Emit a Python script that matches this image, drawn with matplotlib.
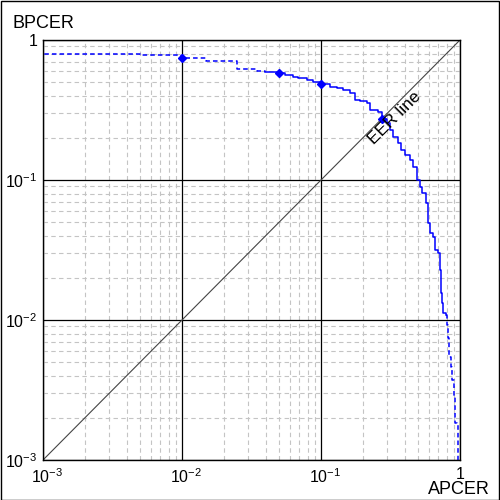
import matplotlib.pyplot as plt
from matplotlib.patches import Rectangle
from matplotlib.ticker import LogLocator, NullFormatter
from matplotlib.transforms import ScaledTranslation

plt.rcParams['font.family'] = ['Liberation Sans', 'DejaVu Sans']
plt.rcParams['mathtext.default'] = 'regular'

# DET curve (step corners), APCER vs BPCER
apcer = [0.001, 0.001, 0.00499, 0.00984, 0.0149, 0.0249, 0.0347, 0.0396,
         0.0497, 0.0551, 0.0629, 0.0683, 0.0793, 0.0876, 0.1, 0.116, 0.130,
         0.144, 0.162, 0.1757, 0.191, 0.214, 0.225, 0.257, 0.2747, 0.2994,
         0.3135, 0.3296, 0.358, 0.376, 0.402, 0.4366, 0.459, 0.4905, 0.515,
         0.532, 0.569, 0.5886, 0.608, 0.639, 0.661, 0.6945, 0.718, 0.726,
         0.742, 0.7585, 0.793, 0.802, 0.8154, 0.834, 0.8615, 0.870, 0.910,
         0.9196, 0.956, 0.962, 1.0]
bpcer = [1.0, 0.79, 0.778, 0.740, 0.711, 0.618, 0.604, 0.591,
         0.578, 0.562, 0.544, 0.533, 0.520, 0.504, 0.483, 0.461, 0.451,
         0.440, 0.418, 0.373, 0.367, 0.355, 0.316, 0.306, 0.273, 0.255,
         0.2276, 0.2028, 0.1837, 0.1637, 0.151, 0.139, 0.124, 0.100, 0.0891,
         0.0807, 0.0685, 0.0493, 0.0418, 0.0391, 0.0316, 0.0301, 0.0228, 0.0156,
         0.0132, 0.0112, 0.01086, 0.0092, 0.00744, 0.00544, 0.00462, 0.00373, 0.00282,
         0.00184, 0.00181, 0.001, 0.001]
solid_start = 7    # dashed before this point
solid_end = 46     # dashed after this point

marker_x = [0.01, 0.05, 0.1, 0.2747]
marker_y = [0.740, 0.578, 0.483, 0.273]

fig = plt.figure(figsize=(5, 5), dpi=100)
ax = fig.add_axes([0.086, 0.08, 0.834, 0.84])
ax.set_xscale('log')
ax.set_yscale('log')
ax.set_xlim(1e-3, 1)
ax.set_ylim(1e-3, 1)

ax.xaxis.set_minor_locator(LogLocator(base=10, subs=range(2, 10)))
ax.yaxis.set_minor_locator(LogLocator(base=10, subs=range(2, 10)))
ax.xaxis.set_minor_formatter(NullFormatter())
ax.yaxis.set_minor_formatter(NullFormatter())
ax.grid(which='minor', color='#c4c4c4', linestyle=(0, (4, 3)), linewidth=0.8)
ax.grid(which='major', color='black', linestyle='-', linewidth=0.9)

ticks = [1e-3, 1e-2, 1e-1, 1]
labels = ['$10^{-3}$', '$10^{-2}$', '$10^{-1}$', '1']
ax.set_xticks(ticks)
ax.set_xticklabels(labels)
ax.set_yticks(ticks)
ax.set_yticklabels(labels)
ax.tick_params(which='both', length=0, labelsize=11.5, colors='black')
ax.tick_params(axis='x', pad=5)
ax.tick_params(axis='y', pad=4)
for s in ax.spines.values():
    s.set_linewidth(1)
    s.set_color('black')

# shift x tick labels a little to the right, like the original
shift = ScaledTranslation(4 / 100, 0, fig.dpi_scale_trans)
for lbl in ax.get_xticklabels():
    if lbl.get_text() != '1':
        lbl.set_transform(lbl.get_transform() + shift)

# EER line
ax.plot([1e-3, 1], [1e-3, 1], color='#444444', linewidth=0.8)
ax.text(0.34, 0.277, 'EER line', rotation=45, rotation_mode='anchor',
        ha='center', va='center', fontsize=12.5)

# curve
ax.plot(apcer[:solid_start + 1], bpcer[:solid_start + 1], drawstyle='steps-post',
        color='blue', linewidth=1.1, linestyle=(0, (3, 2)))
ax.plot(apcer[solid_start:solid_end + 1], bpcer[solid_start:solid_end + 1],
        drawstyle='steps-post', color='blue', linewidth=1.1)
ax.plot(apcer[solid_end:], bpcer[solid_end:], drawstyle='steps-post',
        color='blue', linewidth=1.1, linestyle=(0, (3, 2)))
ax.plot(marker_x, marker_y, linestyle='none', marker='D', markersize=4.5,
        color='blue')

fig.text(0.024, 0.945, 'BPCER', fontsize=13, ha='left', va='baseline')
fig.text(0.98, 0.012, 'APCER', fontsize=13, ha='right', va='baseline')

fig.patches.append(Rectangle((0.001, 0.001), 0.997, 0.997, transform=fig.transFigure,
                             fill=False, edgecolor='black', linewidth=1))

fig.savefig('out.png', dpi=100)
